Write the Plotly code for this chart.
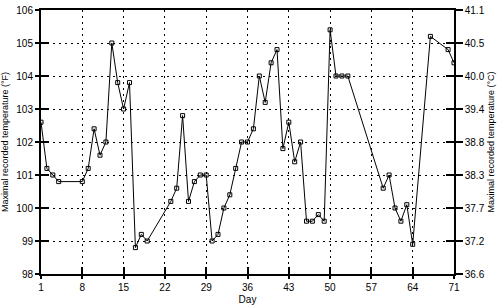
import plotly.graph_objects as go

days = [1, 2, 3, 4, 8, 9, 10, 11, 12, 13, 14, 15, 16, 17, 18, 19, 23, 24, 25, 26,
        27, 28, 29, 30, 31, 32, 33, 34, 35, 36, 37, 38, 39, 40, 41, 42, 43, 44, 45,
        46, 47, 48, 49, 50, 51, 52, 53, 59, 60, 61, 62, 63, 64, 67, 70, 71]
temp_f = [102.6, 101.2, 101.0, 100.8, 100.8, 101.2, 102.4, 101.6, 102.0, 105.0,
          103.8, 103.0, 103.8, 98.8, 99.2, 99.0, 100.2, 100.6, 102.8, 100.2,
          100.8, 101.0, 101.0, 99.0, 99.2, 100.0, 100.4, 101.2, 102.0, 102.0,
          102.4, 104.0, 103.2, 104.4, 104.8, 101.8, 102.6, 101.4, 102.0, 99.6,
          99.6, 99.8, 99.6, 105.4, 104.0, 104.0, 104.0, 100.6, 101.0, 100.0,
          99.6, 100.1, 98.9, 105.2, 104.8, 104.4]

x_ticks = [1, 8, 15, 22, 29, 36, 43, 50, 57, 64, 71]
f_ticks = [98, 99, 100, 101, 102, 103, 104, 105, 106]
c_labels = ["36.6", "37.2", "37.7", "38.3", "38.8", "39.4", "40.0", "40.5", "41.1"]

FONT = "Liberation Sans, Arial, sans-serif"
fig = go.Figure()
fig.add_trace(go.Scatter(
    x=days, y=temp_f, mode="lines+markers",
    line=dict(color="black", width=1),
    marker=dict(symbol="square-open", size=4, color="black", line=dict(width=1)),
    showlegend=False))
# helper traces so the extra axes render
fig.add_trace(go.Scatter(x=[None], y=[None], xaxis="x", yaxis="y2", showlegend=False, hoverinfo="skip"))
fig.add_trace(go.Scatter(x=[None], y=[None], xaxis="x2", yaxis="y3", showlegend=False, hoverinfo="skip"))
fig.add_trace(go.Scatter(x=[None], y=[None], xaxis="x", yaxis="y4", showlegend=False, hoverinfo="skip"))

common_grid = dict(showgrid=True, gridcolor="black", griddash="1.5px,4.5px", gridwidth=1.2)

fig.update_layout(
    width=500, height=308,
    margin=dict(l=40, r=46, t=4, b=30),
    paper_bgcolor="white", plot_bgcolor="white",
    font=dict(family=FONT, size=10, color="black"),
    xaxis=dict(range=[1, 71], tickvals=x_ticks, ticks="outside", ticklen=3,
               tickwidth=1.5, tickcolor="black",
               showline=True, linecolor="black", linewidth=1.5, mirror=True,
               title=dict(text="Day", standoff=4, font=dict(size=10)),
               zeroline=False, **common_grid),
    xaxis2=dict(range=[1, 71], overlaying="x", side="bottom", tickvals=x_ticks,
                ticks="inside", ticklen=7, tickwidth=1.5, tickcolor="black",
                showticklabels=False, showgrid=False, zeroline=False, showline=False),
    yaxis=dict(range=[98, 106], tickvals=f_ticks, ticks="outside", ticklen=4,
               tickwidth=1.5, tickcolor="black",
               showline=True, linecolor="black", linewidth=2,
               title=dict(text="Maximal recorded temperature (°F)", standoff=6,
                          font=dict(size=9)),
               zeroline=False, **common_grid),
    yaxis2=dict(range=[98, 106], overlaying="y", side="right", tickvals=f_ticks,
                ticktext=c_labels, ticks="outside", ticklen=7, tickwidth=1.5,
                tickcolor="black", showline=True, linecolor="black", linewidth=1.5,
                title=dict(text="Maximal recorded temperature (°C)", standoff=4,
                           font=dict(size=9)),
                showgrid=False, zeroline=False),
    yaxis3=dict(range=[98, 106], overlaying="y", side="left", tickvals=f_ticks,
                ticks="inside", ticklen=8, tickwidth=1.5, tickcolor="black",
                showticklabels=False, showgrid=False, zeroline=False, showline=False),
    yaxis4=dict(range=[98, 106], overlaying="y", side="right", tickvals=f_ticks,
                ticks="inside", ticklen=8, tickwidth=1.5, tickcolor="black",
                showticklabels=False, showgrid=False, zeroline=False, showline=False),
)

fig.write_html("out.html")
